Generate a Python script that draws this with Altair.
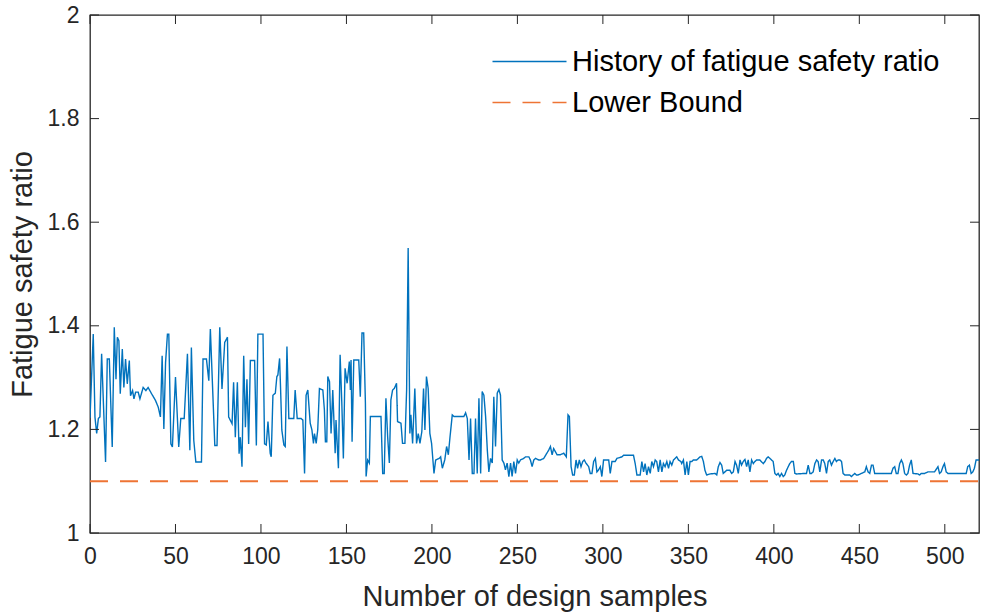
import altair as alt
import pandas as pd

# ---- data ----
sample_x = [
    0, 1.9, 2.9, 3.9, 4.9, 5.8, 6.8, 9.1, 10.1, 11.3, 13.0, 14.2, 15.2, 16.0, 16.9, 17.7, 18.9, 19.8,
    20.8, 21.8, 23.0, 23.7, 24.9, 25.7, 26.7, 28.2, 29.2, 31.1, 32.7, 34.0, 36.0, 38.3, 39.9, 41.2,
    42.2, 43.2, 44.2, 45.3, 46.1, 47.3, 48.2, 50.0, 51.9, 53.1, 55.1, 57.0, 58.4, 59.3, 60.7, 61.9,
    65.2, 66.1, 68.1, 69.5, 70.4, 73.0, 74.3, 75.9, 77.2, 78.8, 80.4, 81.1, 83.1, 84.0, 85.0, 86.2,
    87.2, 87.9, 88.9, 89.9, 90.9, 91.8, 92.8, 93.8, 96.3, 97.3, 98.2, 101.2, 102.1,
    103.1, 104.1, 105.4, 106.0, 107.0, 108.4, 109.3, 109.9, 110.9, 111.5, 112.2, 113.4, 114.2, 115.2,
    116.3, 119.2, 120.0, 121.2, 123.5, 124.5, 125.5, 126.4, 127.4, 128.8, 129.8, 130.7, 131.3, 132.3,
    133.2, 134.2, 136.2, 137.1, 137.7, 138.5, 139.1, 140.1, 141.0, 142.0, 143.4, 143.9, 145.3, 146.3,
    147.3, 148.2, 149.2, 150.4, 151.7, 152.3, 152.7, 153.3, 154.3, 157.2, 158.1, 159.1, 160.1, 161.1,
    161.5, 162.4, 163.4, 164.0, 170.2, 171.2, 172.1, 173.1, 174.1, 175.1, 176.0, 177.0, 178.0, 179.3,
    179.9, 181.9, 182.8, 184.2, 185.2, 186.1, 187.1, 187.7, 188.7, 190.0, 191.0, 192.0, 193.0, 194.1,
    195.1, 195.9, 196.8, 197.8, 198.8, 199.8,
    201.2, 202.2, 204.2, 205.1, 206.1, 207.5, 208.6, 209.6, 210.6, 211.9, 212.9, 218.7, 219.7, 220.7,
    221.7, 222.6, 223.6, 224.6, 225.5, 226.5, 227.5, 228.5, 229.4, 230.4, 231.4, 232.4, 233.3, 234.3,
    235.3, 236.2, 237.2, 238.2, 239.2, 240.1, 241.1, 242.1, 243.0, 244.0, 245.0, 246.0, 246.9, 247.9,
    248.9, 249.9, 250.8, 251.8, 253.7, 254.7, 256.7, 257.6, 258.6, 259.6, 260.6, 262.5, 263.5, 265.4,
    268.3, 269.3, 270.3, 271.2, 272.2, 273.2, 275.1, 277.1, 278.6, 279.6, 280.4, 281.4, 282.3, 283.3,
    284.3, 285.2, 286.2, 287.2, 288.2, 289.1, 290.1, 291.7, 292.6, 293.6, 294.6, 295.6, 296.5, 297.5,
    298.5, 299.4, 300.4,
    303.4, 304.3, 305.3, 307.2, 308.2, 311.1, 312.1, 317.9, 318.9, 319.9, 321.8, 322.8, 323.8, 324.7,
    325.7, 326.7, 327.7, 328.6, 329.6, 330.6, 331.5, 332.5, 333.5, 334.5, 335.4, 336.4, 337.4, 338.4,
    339.3, 340.3, 341.3, 343.2, 344.2, 345.6, 346.1, 347.1, 348.1, 349.1, 350.0, 351.0, 352.0, 352.9,
    354.9, 356.8, 357.8, 358.8, 359.7, 360.7, 362.7, 365.6, 366.6, 367.5, 368.5, 369.5, 370.4, 371.4,
    372.4, 374.3, 375.3, 376.3, 377.3, 378.2, 379.2, 380.2, 381.1, 382.1, 383.1, 384.1, 385.0, 386.0,
    387.0, 388.0, 388.9, 389.9, 391.8, 393.8, 394.8, 395.7, 396.7, 397.7, 399.6, 400.6, 401.6, 402.5,
    403.5, 404.5, 405.5, 406.4, 407.4, 408.4, 409.3, 410.3,
    411.4, 412.3, 413.3, 418.2, 419.1, 420.1, 421.1, 422.0, 423.0, 424.0, 425.0, 425.9, 426.9, 427.9,
    428.9, 429.8, 430.8, 431.8, 432.7, 433.7, 434.7, 435.7, 436.6, 437.6, 438.6, 439.6, 440.5, 441.5,
    444.4, 445.4, 447.3, 448.3, 449.3, 451.2, 453.2, 454.1, 455.1, 456.1, 457.1, 458.0, 459.0, 460.9,
    468.7, 469.7, 470.7, 471.6, 472.6, 473.6, 474.6, 475.5, 476.5, 477.5, 478.4, 479.4, 480.4, 481.4,
    484.3, 485.3, 486.2, 488.2, 490.1, 491.1, 494.0, 496.0, 496.9, 497.9, 498.9, 499.8, 500.8, 501.8,
    507.6, 512.5, 513.4, 514.4, 515.4, 516.4, 517.3, 518.3, 520.0,
]
safety_ratio = [
    1.222, 1.384, 1.224, 1.192, 1.221, 1.224, 1.346, 1.137, 1.336, 1.336, 1.166, 1.397, 1.297, 1.378,
    1.371, 1.269, 1.355, 1.281, 1.336, 1.288, 1.333, 1.265, 1.275, 1.259, 1.272, 1.272, 1.259, 1.281,
    1.275, 1.281, 1.269, 1.256, 1.243, 1.224, 1.342, 1.201, 1.329, 1.384, 1.384, 1.172, 1.166, 1.301,
    1.166, 1.221, 1.221, 1.346, 1.160, 1.358, 1.179, 1.137, 1.137, 1.336, 1.336, 1.294, 1.394, 1.169,
    1.169, 1.397, 1.278, 1.368, 1.378, 1.224, 1.211, 1.291, 1.185, 1.291, 1.153, 1.185, 1.128, 1.342,
    1.204, 1.297, 1.172, 1.333, 1.333, 1.169, 1.384, 1.384, 1.172,
    1.170, 1.215, 1.154, 1.147, 1.266, 1.270, 1.302, 1.305, 1.337, 1.276, 1.199, 1.170, 1.167, 1.360,
    1.221, 1.221, 1.276, 1.221, 1.221, 1.218, 1.115, 1.266, 1.276, 1.212, 1.199, 1.173, 1.192, 1.173,
    1.199, 1.279, 1.276, 1.238, 1.176, 1.176, 1.302, 1.292, 1.192, 1.276, 1.154, 1.218, 1.125, 1.344,
    1.250, 1.144, 1.318, 1.289, 1.331, 1.276, 1.334, 1.176, 1.334, 1.334, 1.263, 1.386, 1.386, 1.250,
    1.109, 1.141, 1.135, 1.225, 1.225, 1.115, 1.115, 1.260, 1.186, 1.135, 1.257, 1.276, 1.279, 1.289,
    1.215, 1.212, 1.173, 1.173, 1.276, 1.550, 1.192, 1.228, 1.173, 1.279, 1.173, 1.192, 1.173, 1.196,
    1.279, 1.199, 1.302, 1.279, 1.192, 1.173,
    1.115, 1.141, 1.144, 1.147, 1.125, 1.141, 1.167, 1.151, 1.186, 1.228, 1.225, 1.225, 1.232, 1.221,
    1.141, 1.221, 1.115, 1.115, 1.221, 1.115, 1.260, 1.115, 1.273, 1.266, 1.225, 1.160, 1.118, 1.144,
    1.135, 1.263, 1.167, 1.270, 1.277, 1.266, 1.141, 1.135, 1.122, 1.135, 1.109, 1.135, 1.109, 1.138,
    1.115, 1.141, 1.135, 1.141, 1.144, 1.147, 1.147, 1.141, 1.128, 1.141, 1.144, 1.141, 1.141, 1.144,
    1.160, 1.167, 1.151, 1.163, 1.157, 1.151, 1.151, 1.154, 1.147, 1.228, 1.225, 1.128, 1.112, 1.112,
    1.141, 1.125, 1.141, 1.128, 1.138, 1.141, 1.135, 1.128, 1.115, 1.115, 1.138, 1.144, 1.118, 1.122,
    1.128, 1.109, 1.141,
    1.141, 1.115, 1.138, 1.138, 1.144, 1.147, 1.150, 1.150, 1.134, 1.112, 1.112, 1.138, 1.118, 1.134,
    1.112, 1.128, 1.115, 1.138, 1.128, 1.141, 1.138, 1.118, 1.141, 1.118, 1.134, 1.128, 1.138, 1.125,
    1.138, 1.131, 1.141, 1.147, 1.141, 1.138, 1.134, 1.141, 1.112, 1.138, 1.112, 1.138, 1.138, 1.141,
    1.141, 1.147, 1.148, 1.138, 1.121, 1.112, 1.114, 1.115, 1.112, 1.128, 1.136, 1.131, 1.115, 1.118,
    1.121, 1.121, 1.115, 1.118, 1.138, 1.131, 1.115, 1.141, 1.131, 1.138, 1.142, 1.128, 1.141, 1.118,
    1.141, 1.134, 1.138, 1.141, 1.141, 1.134, 1.138, 1.144, 1.147, 1.144, 1.138, 1.115, 1.112, 1.115,
    1.109, 1.115, 1.109, 1.112, 1.121, 1.128, 1.134, 1.138,
    1.138, 1.115, 1.114, 1.115, 1.115, 1.131, 1.115, 1.115, 1.118, 1.134, 1.141, 1.138, 1.118, 1.141,
    1.141, 1.134, 1.115, 1.138, 1.141, 1.131, 1.138, 1.144, 1.138, 1.141, 1.141, 1.138, 1.115, 1.112,
    1.112, 1.109, 1.115, 1.112, 1.112, 1.115, 1.118, 1.128, 1.118, 1.115, 1.131, 1.131, 1.115, 1.115,
    1.115, 1.125, 1.128, 1.115, 1.115, 1.134, 1.141, 1.134, 1.115, 1.112, 1.115, 1.131, 1.141, 1.115,
    1.114, 1.112, 1.115, 1.115, 1.118, 1.118, 1.118, 1.128, 1.115, 1.118, 1.128, 1.134, 1.118, 1.115,
    1.115, 1.115, 1.128, 1.131, 1.115, 1.118, 1.125, 1.141, 1.141,
]
bound_x = [0, 520]
bound_y = [1.1, 1.1]
series_names = ["History of fatigue safety ratio", "Lower Bound"]
x_ticks = [0, 50, 100, 150, 200, 250, 300, 350, 400, 450, 500]
y_ticks = [1.0, 1.2, 1.4, 1.6, 1.8, 2.0]

history_df = pd.DataFrame({"sample": sample_x, "ratio": safety_ratio, "series": series_names[0]})
bound_df = pd.DataFrame({"sample": bound_x, "ratio": bound_y, "series": series_names[1]})
xt_df = pd.DataFrame({"sample": x_ticks})
yt_df = pd.DataFrame({"ratio": y_ticks})

W, H = 889, 518
FONT = "Liberation Sans"
INK = "#262626"
BLUE = "#0072BD"
ORANGE = "#EE7434"

x_scale = alt.Scale(domain=[0, 520], nice=False, zero=False)
y_scale = alt.Scale(domain=[1, 2], nice=False, zero=False)

# legend symbol: a long horizontal stroke drawn by a custom path on a small symbol cell
legend = alt.Legend(
    title=None, orient="none", legendX=425, legendY=32,
    symbolType="M-3.7,0H3.7", symbolSize=400, symbolStrokeWidth=1.5,
    labelFontSize=29, labelFont=FONT, labelColor="black", labelOffset=28,
    rowPadding=11, padding=0, labelLimit=600,
)
color_enc = alt.Color("series:N", scale=alt.Scale(domain=series_names, range=[BLUE, ORANGE]), legend=legend)
dash_enc = alt.StrokeDash("series:N", scale=alt.Scale(domain=series_names, range=[[1, 0], [18, 12]]), legend=legend)

x_axis = alt.Axis(
    values=x_ticks, title="Number of design samples", domain=False, ticks=False, grid=False,
    labelFont=FONT, labelFontSize=23, labelColor=INK, labelPadding=12, labelFlush=False,
    titleFont=FONT, titleFontSize=29, titleFontWeight="normal", titleColor=INK,
    titleY=72, titleBaseline="alphabetic",
)
y_axis = alt.Axis(
    values=y_ticks, format=".1~f", title="Fatigue safety ratio", domain=False, ticks=False, grid=False,
    labelFont=FONT, labelFontSize=23, labelColor=INK, labelPadding=11, labelFlush=False,
    titleFont=FONT, titleFontSize=29, titleFontWeight="normal", titleColor=INK,
    titleX=-59, titleY=H / 2, titleAngle=270, titleAlign="center", titleBaseline="alphabetic",
)

X = alt.X("sample:Q", scale=x_scale, axis=x_axis)
Y = alt.Y("ratio:Q", scale=y_scale, axis=y_axis)

history = alt.Chart(history_df).mark_line(strokeWidth=1.4, clip=True).encode(
    x=X, y=Y, color=color_enc, strokeDash=dash_enc)
bound = alt.Chart(bound_df).mark_line(strokeWidth=2, clip=True).encode(
    x=X, y=Y, color=color_enc, strokeDash=dash_enc)

TL = 9
xt_bottom = alt.Chart(xt_df).mark_rule(color=INK, strokeWidth=1).encode(
    x=X, y=alt.value(H), y2=alt.value(H - TL))
xt_top = alt.Chart(xt_df).mark_rule(color=INK, strokeWidth=1).encode(
    x=X, y=alt.value(0), y2=alt.value(TL))
yt_left = alt.Chart(yt_df).mark_rule(color=INK, strokeWidth=1).encode(
    y=Y, x=alt.value(0), x2=alt.value(TL))
yt_right = alt.Chart(yt_df).mark_rule(color=INK, strokeWidth=1).encode(
    y=Y, x=alt.value(W - TL), x2=alt.value(W))

chart = alt.layer(bound, history, xt_bottom, xt_top, yt_left, yt_right).properties(
    width=W, height=H,
    autosize=alt.AutoSizeParams(type="none"),
    padding={"left": 90, "top": 15, "right": 2, "bottom": 82},
    background="white",
).configure(font=FONT).configure_view(stroke=INK, strokeWidth=1.3)

chart.save("out.html", embed_options={"renderer": "svg", "actions": False})
